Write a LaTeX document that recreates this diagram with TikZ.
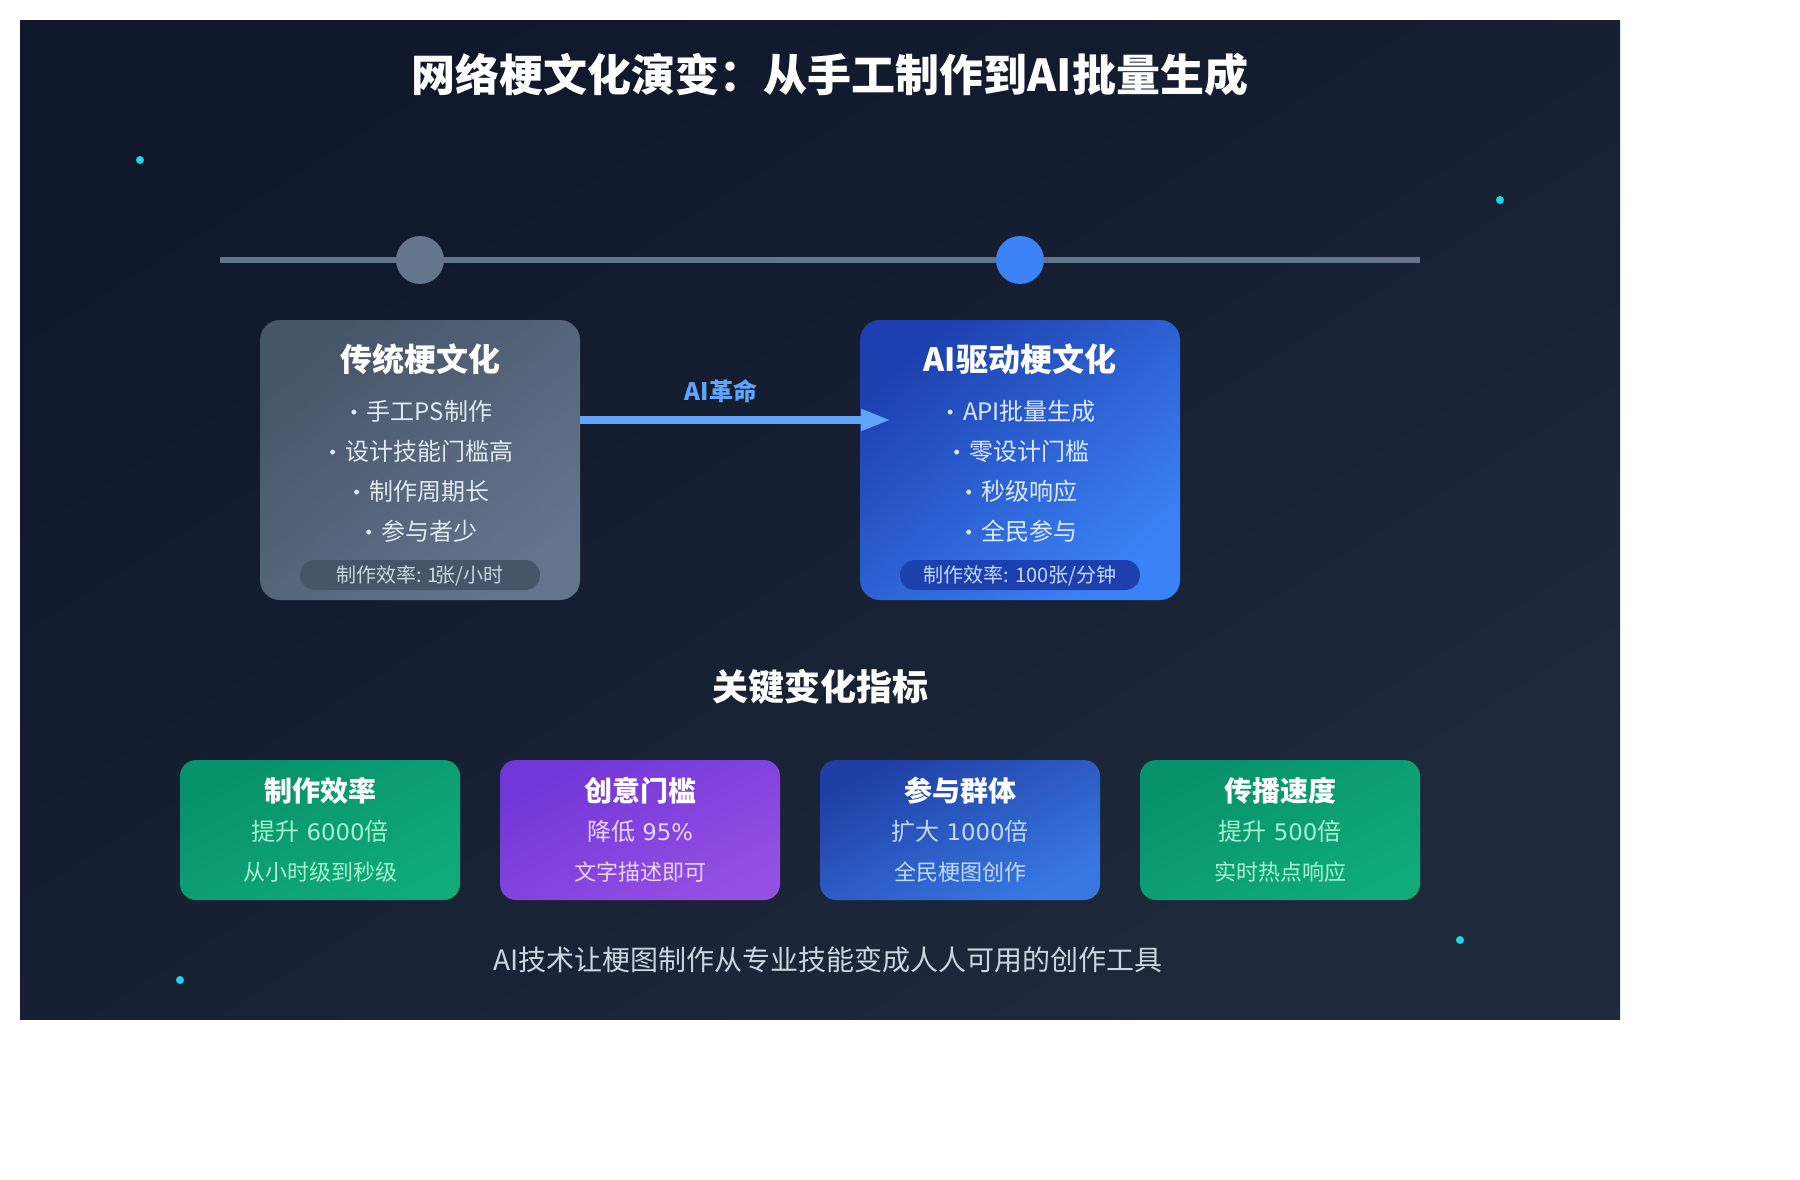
\documentclass[tikz,border=0pt]{standalone}
\usepackage{fontspec}
\setmainfont{Noto Sans CJK SC}
\newfontfamily\bulletfont{Liberation Sans}
\newfontfamily\digitfont{DejaVu Sans}[Scale=0.95]
\usetikzlibrary{arrows.meta}
\definecolor{bgfrom}{HTML}{0F172A}
\definecolor{bgto}{HTML}{1E293B}
\definecolor{oldfrom}{HTML}{475569}
\definecolor{oldto}{HTML}{64748B}
\definecolor{newfrom}{HTML}{1E40AF}
\definecolor{newto}{HTML}{3B82F6}
\definecolor{arrowblue}{HTML}{60A5FA}
\definecolor{dotcyan}{HTML}{22D3EE}
\definecolor{listgray}{HTML}{E2E8F0}
\definecolor{listblue}{HTML}{DBEAFE}
\definecolor{pillgray}{HTML}{CBD5E1}
\definecolor{greenfrom}{HTML}{07916A}
\definecolor{greento}{HTML}{10AB79}
\definecolor{purplefrom}{HTML}{7136D8}
\definecolor{purpleto}{HTML}{954FE2}
\definecolor{bluefrom}{HTML}{1F3FA4}
\definecolor{blueto}{HTML}{3878E3}
\definecolor{greenval}{HTML}{A7F3D0}
\definecolor{purpleval}{HTML}{E9D5FF}
\definecolor{blueval}{HTML}{BFDBFE}
\newcommand{\dotitem}{\raisebox{2.2pt}{\bulletfont\fontsize{18pt}{20pt}\selectfont •}\hspace{9.5pt}}
\tikzset{
  >=Triangle[],
  diagonal/.style={shading=axis,shading angle=#1},
  card/.style={inner sep=0,minimum width=320pt,minimum height=280pt,rounded corners=20pt},
  metric/.style={inner sep=0,minimum width=280pt,minimum height=140pt,rounded corners=16pt},
  pill/.style={inner sep=0,minimum width=240pt,minimum height=30pt,rounded corners=15pt},
  dot/.style={circle,fill=dotcyan,inner sep=0,minimum size=8pt},
  stop/.style={circle,inner sep=0,minimum size=48pt},
  cardtitle/.style={white,font=\fontsize{32pt}{36pt}\bfseries\selectfont},
  listitem/.style={listgray,xshift=1.5pt,font=\fontsize{24pt}{28pt}\selectfont},
  pilltext/.style={pillgray,font=\fontsize{20pt}{24pt}\selectfont},
  metrictitle/.style={white,font=\fontsize{28pt}{32pt}\bfseries\selectfont},
  metricval/.style={font=\fontsize{24pt}{28pt}\selectfont},
  metricnote/.style={font=\fontsize{22pt}{26pt}\selectfont}
}

\begin{document}
\begin{tikzpicture}[x=1pt,y=-1pt]
  \useasboundingbox (0,0) rectangle (1800,1180);
  \node[inner sep=0,minimum width=1600pt,minimum height=999pt,top color=bgfrom,bottom color=bgto,diagonal=32](bg) at (820,520) {};

  \node[white,font=\fontsize{44pt}{50pt}\bfseries\selectfont](title) at (830,75) {网络梗文化演变：从手工制作到AI批量生成};

  % timeline
  \coordinate (linestart) at (220,260);
  \coordinate (lineend) at (1420,260);
  \draw[line width=6pt,oldto] (linestart) -- (lineend);
  \node[stop,fill=oldto](oldstop) at (420,260) {};
  \node[stop,fill=newto](newstop) at (1020,260) {};

  % the two cards
  \node[card,top color=oldfrom,bottom color=oldto,diagonal=41](oldcard) at (420,460) {};
  \node[card,top color=newfrom,bottom color=newto,diagonal=41](newcard) at (1020,460) {};

  \coordinate (arrowend) at (891,420);
  \draw[->,>={Triangle[length=30pt,width=20pt]},line width=8pt,arrowblue] (oldcard.east |- arrowend) -- (arrowend);
  \node[arrowblue,font=\fontsize{24pt}{28pt}\bfseries\selectfont](arrowlabel) at (721,391) {AI革命};

  \node[cardtitle](oldtitle) at (420,359) {传统梗文化};
  \node[cardtitle](newtitle) at (1020,359) {AI驱动梗文化};

  \foreach \t/\y/\txt in {1/411.5/手工PS制作, 2/451.5/设计技能门槛高, 3/491.5/制作周期长, 4/531.5/参与者少} {
    \node[listitem](oldline\t) at (420,\y) {\dotitem\txt};
  }
  \foreach \t/\y/\txt in {1/411.5/API批量生成, 2/451.5/零设计门槛, 3/491.5/秒级响应, 4/531.5/全民参与} {
    \node[listitem,color=listblue](newline\t) at (1020,\y) {\dotitem\txt};
  }

  \node[pill,fill=oldfrom](oldpill) at (420,575) {};
  \node[pilltext,yshift=-1pt](oldrate) at (oldpill) {制作效率: 1\kern-3pt 张/小时};
  \node[pill,fill=newfrom](newpill) at (1020,575) {};
  \node[pilltext,color=blueval,yshift=-1pt](newrate) at (newpill) {制作效率: 100张/分钟};

  \node[white,font=\fontsize{36pt}{40pt}\bfseries\selectfont](heading) at (820,687) {关键变化指标};

  % metric cards
  \foreach \t/\x/\ca/\cb/\cv/\head/\val/\note in {
    1/320/greenfrom/greento/greenval/制作效率/提升{\digitfont\ 6000}倍/从小时级到秒级,
    2/640/purplefrom/purpleto/purpleval/创意门槛/降低{\digitfont\ 95\%}/文字描述即可,
    3/960/bluefrom/blueto/blueval/参与群体/扩大{\digitfont\ 1000}倍/全民梗图创作,
    4/1280/greenfrom/greento/greenval/传播速度/提升{\digitfont\ 500}倍/实时热点响应} {
    \node[metric,top color=\ca,bottom color=\cb,diagonal=27](metric\t) at (\x,830) {};
    \node[metrictitle](head\t) at (\x,790.5) {\head};
    \node[metricval,color=\cv](val\t) at (\x,831) {\val};
    \node[metricnote,color=\cv](note\t) at (\x,872) {\note};
  }

  \node[pillgray,font=\fontsize{28pt}{32pt}\selectfont](footer) at (828,960) {AI技术让梗图制作从专业技能变成人人可用的创作工具};

  \node[dot](dot1) at (140,160) {};
  \node[dot](dot2) at (1500,200) {};
  \node[dot](dot3) at (1460,940) {};
  \node[dot](dot4) at (180,980) {};
\end{tikzpicture}
\end{document}
